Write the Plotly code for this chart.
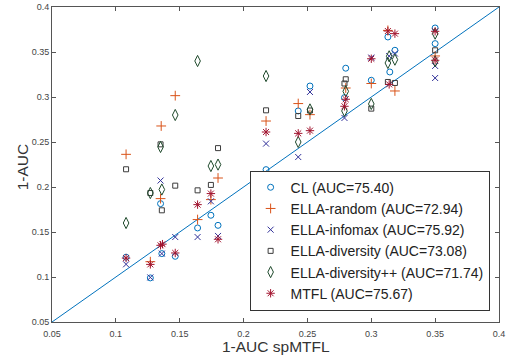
import plotly.graph_objects as go

# ---- data (x = 1-AUC spMTFL, y = 1-AUC of method) ----
cl_x = [0.108, 0.127, 0.135, 0.136, 0.1465, 0.164, 0.1744, 0.180, 0.2176, 0.2428, 0.252,
        0.280, 0.279, 0.300, 0.313, 0.3145, 0.3185, 0.350, 0.350]
cl_y = [0.122, 0.099, 0.1815, 0.126, 0.123, 0.1545, 0.1686, 0.1574, 0.2193, 0.2845, 0.3122,
        0.332, 0.2993, 0.3186, 0.3667, 0.3278, 0.3519, 0.3767, 0.3593]

rnd_x = [0.108, 0.127, 0.1355, 0.135, 0.1465, 0.164, 0.1744, 0.180, 0.2176, 0.2428, 0.252,
         0.280, 0.300, 0.313, 0.3185, 0.350]
rnd_y = [0.2363, 0.117, 0.2678, 0.1871, 0.3015, 0.1638, 0.186, 0.210, 0.2733, 0.2927, 0.2804,
         0.310, 0.315, 0.374, 0.3067, 0.3456]

info_x = [0.108, 0.127, 0.135, 0.136, 0.1465, 0.164, 0.1744, 0.180, 0.2176, 0.2428, 0.252,
          0.279, 0.300, 0.3185, 0.314, 0.350, 0.350]
info_y = [0.1141, 0.0995, 0.2072, 0.126, 0.1444, 0.1444, 0.1841, 0.1456, 0.2482, 0.2333, 0.3056,
          0.2767, 0.3438, 0.3483, 0.3455, 0.3345, 0.3211]

div_x = [0.108, 0.127, 0.135, 0.136, 0.1465, 0.164, 0.1744, 0.180, 0.2176, 0.2428, 0.252,
         0.280, 0.279, 0.300, 0.313, 0.3185, 0.350]
div_y = [0.2197, 0.1933, 0.2474, 0.1741, 0.2015, 0.1963, 0.2023, 0.2432, 0.2852, 0.2789, 0.285,
         0.3197, 0.315, 0.2871, 0.3167, 0.3156, 0.3519]

divpp_x = [0.108, 0.127, 0.135, 0.136, 0.1465, 0.164, 0.1744, 0.180, 0.2176, 0.2428, 0.252,
           0.280, 0.279, 0.300, 0.313, 0.314, 0.3185, 0.350, 0.350]
divpp_y = [0.160, 0.1933, 0.2445, 0.1972, 0.280, 0.340, 0.2233, 0.2249, 0.3233, 0.250, 0.2862,
           0.3063, 0.2845, 0.2923, 0.3378, 0.3452, 0.3415, 0.3704, 0.3397]

mtfl_x = [0.108, 0.127, 0.135, 0.1365, 0.1465, 0.164, 0.1744, 0.180, 0.2176, 0.2428, 0.252,
          0.280, 0.279, 0.300, 0.313, 0.3185, 0.314, 0.350, 0.350]
mtfl_y = [0.121, 0.114, 0.1352, 0.1365, 0.1267, 0.1804, 0.1927, 0.1419, 0.2611, 0.2596, 0.2626,
          0.2975, 0.2897, 0.3425, 0.3733, 0.3704, 0.314, 0.373, 0.3408]

diag_x = [0.05, 0.4]
diag_y = [0.05, 0.4]

tick_vals = [0.05, 0.1, 0.15, 0.2, 0.25, 0.3, 0.35, 0.4]
tick_text = ["0.05", "0.1", "0.15", "0.2", "0.25", "0.3", "0.35", "0.4"]

series = [
    ("CL (AUC=75.40)", cl_x, cl_y, "circle-open", "#0072BD", 6),
    ("ELLA-random (AUC=72.94)", rnd_x, rnd_y, "cross-thin-open", "#D95319", 7),
    ("ELLA-infomax (AUC=75.92)", info_x, info_y, "x-thin-open", "#32329A", 6),
    ("ELLA-diversity (AUC=73.08)", div_x, div_y, "square-open", "#3C3C3C", 5),
    ("ELLA-diversity++ (AUC=71.74)", divpp_x, divpp_y, "diamond-tall-open", "#1F4A2C", 8),
    ("MTFL (AUC=75.67)", mtfl_x, mtfl_y, "asterisk-open", "#A2142F", 7),
]

FONT = "Liberation Sans, Arial, Helvetica"

fig = go.Figure()
fig.add_trace(go.Scatter(x=diag_x, y=diag_y, mode="lines",
                         line=dict(color="#0072BD", width=1), showlegend=False,
                         hoverinfo="skip"))
for name, xs, ys, sym, col, sz in series:
    fig.add_trace(go.Scatter(x=xs, y=ys, mode="markers", name=name,
                             marker=dict(symbol=sym, size=sz, color=col,
                                         line=dict(color=col, width=1))))

axis_common = dict(
    range=[0.05, 0.4], tickvals=tick_vals, ticktext=tick_text,
    ticks="inside", ticklen=4, tickwidth=1, tickcolor="#555555",
    showline=True, linecolor="#555555", linewidth=1, mirror="ticks",
    showgrid=False, zeroline=False,
    tickfont=dict(family=FONT, size=9, color="#444444"),
)
fig.update_xaxes(**axis_common, ticklabelstandoff=3)
fig.update_yaxes(**axis_common)

fig.add_annotation(text="1-AUC spMTFL", xref="paper", yref="paper", x=0.5, y=0,
                   xanchor="center", yanchor="top", yshift=-14, showarrow=False,
                   font=dict(family=FONT, size=15.5, color="#333333"))
fig.add_annotation(text="1-AUC", xref="paper", yref="paper", x=0, y=0.491,
                   xanchor="center", yanchor="middle", xshift=-30, textangle=-90,
                   showarrow=False, font=dict(family=FONT, size=15.5, color="#333333"))

fig.update_layout(
    width=508, height=356,
    margin=dict(l=52, r=9, t=7, b=34, autoexpand=False),
    paper_bgcolor="white", plot_bgcolor="white",
    font=dict(family=FONT, color="#222222"),
    legend=dict(x=0.979, y=0.036, xanchor="right", yanchor="bottom",
                bgcolor="white", bordercolor="#333333", borderwidth=1,
                font=dict(family=FONT, size=14, color="#222222"),
                itemwidth=30, tracegroupgap=0),
)

fig.write_html("out.html", config={"displayModeBar": False},
               post_script="document.body.style.margin='0';document.body.style.padding='0';")
